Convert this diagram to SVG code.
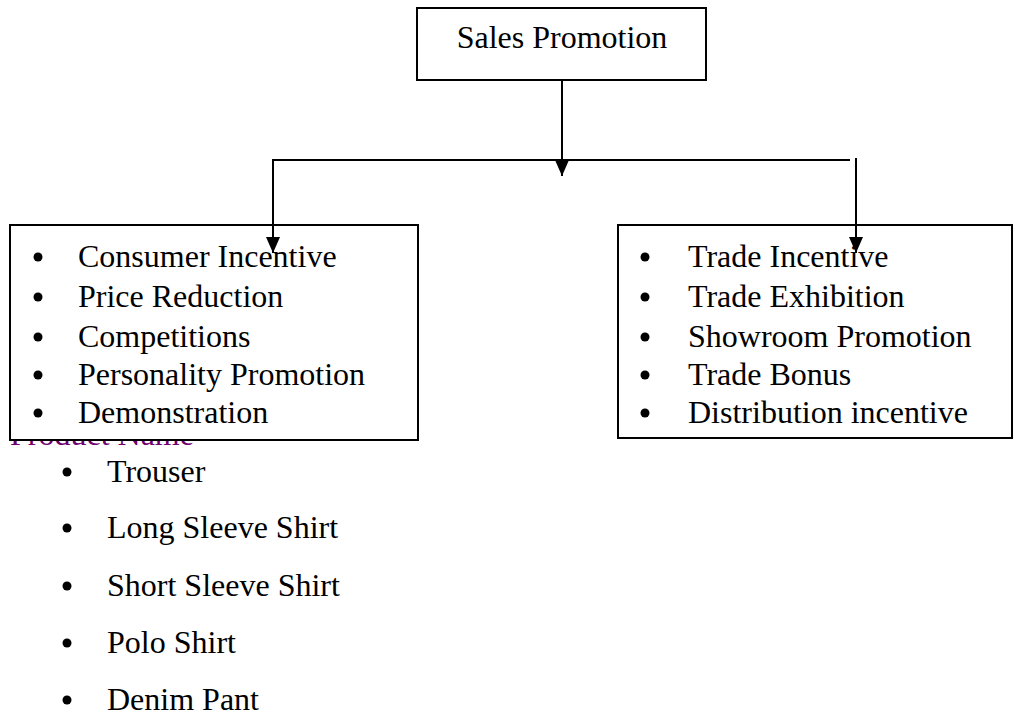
<svg xmlns="http://www.w3.org/2000/svg" width="1015" height="717" viewBox="0 0 1015 717">
<style>
text{font-family:"Liberation Serif","Times New Roman",serif;font-size:32px;fill:#000}
.box{fill:#ffffff;stroke:#000;stroke-width:2}
.ln{fill:none;stroke:#000;stroke-width:2}
.hidden{fill:#700070}
</style>
<defs>
<marker id="ah" viewBox="0 0 16 14" refX="16" refY="7" markerWidth="16" markerHeight="14" markerUnits="userSpaceOnUse" orient="auto">
<path d="M0,0 L16,7 L0,14 Z" fill="#000"/>
</marker>
</defs>
<rect width="1015" height="717" fill="#fff"/>
<g id="hidden-label">
<text class="hidden" x="10" y="445">Product Name</text>
</g>
<g id="top">
<rect class="box" x="417" y="8" width="289" height="72"/>
<text x="562" y="48" text-anchor="middle">Sales Promotion</text>
</g>
<g id="left">
<rect class="box" x="10" y="225" width="408" height="215"/>
<g><circle cx="38" cy="257" r="4.5"/><text x="78" y="267">Consumer Incentive</text></g>
<g><circle cx="38" cy="297" r="4.5"/><text x="78" y="307">Price Reduction</text></g>
<g><circle cx="38" cy="337" r="4.5"/><text x="78" y="347">Competitions</text></g>
<g><circle cx="38" cy="375" r="4.5"/><text x="78" y="385">Personality Promotion</text></g>
<g><circle cx="38" cy="413" r="4.5"/><text x="78" y="423">Demonstration</text></g>
</g>
<g id="right">
<rect class="box" x="618" y="225" width="394" height="213"/>
<g><circle cx="645" cy="257" r="4.5"/><text x="688" y="267">Trade Incentive</text></g>
<g><circle cx="645" cy="297" r="4.5"/><text x="688" y="307">Trade Exhibition</text></g>
<g><circle cx="645" cy="337" r="4.5"/><text x="688" y="347">Showroom Promotion</text></g>
<g><circle cx="645" cy="375" r="4.5"/><text x="688" y="385">Trade Bonus</text></g>
<g><circle cx="645" cy="413" r="4.5"/><text x="688" y="423">Distribution incentive</text></g>
</g>
<g id="products">
<g><circle cx="67" cy="472" r="4.5"/><text x="107" y="482">Trouser</text></g>
<g><circle cx="67" cy="528" r="4.5"/><text x="107" y="538">Long Sleeve Shirt</text></g>
<g><circle cx="67" cy="586" r="4.5"/><text x="107" y="596">Short Sleeve Shirt</text></g>
<g><circle cx="67" cy="643" r="4.5"/><text x="107" y="653">Polo Shirt</text></g>
<g><circle cx="67" cy="700" r="4.5"/><text x="107" y="710">Denim Pant</text></g>
</g>
<g id="connectors">
<line class="ln" x1="562" y1="80" x2="562" y2="176" marker-end="url(#ah)"/>
<polyline class="ln" points="850,160 273,160 273,253" marker-end="url(#ah)"/>
<line class="ln" x1="856" y1="158" x2="856" y2="253" marker-end="url(#ah)"/>
</g>
</svg>
